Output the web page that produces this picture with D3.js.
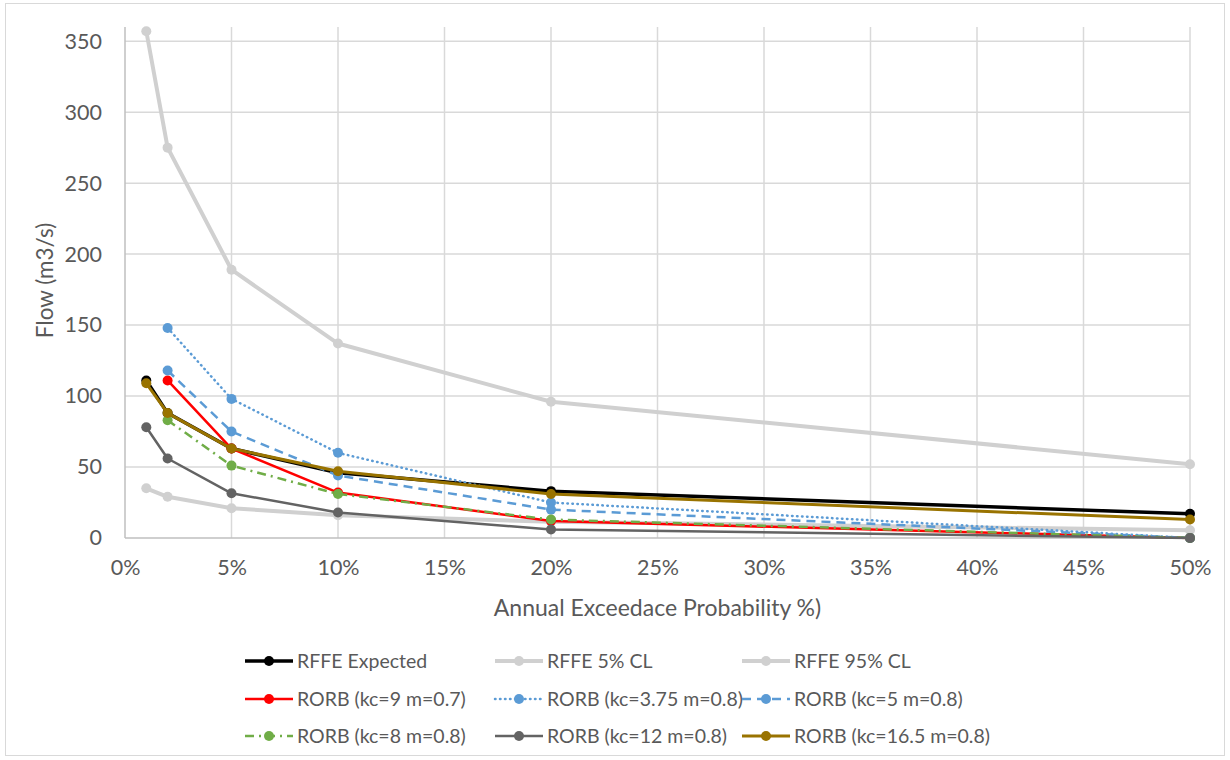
<!DOCTYPE html>
<html>
<head>
<meta charset="utf-8">
<script src="https://cdn.jsdelivr.net/npm/d3@7.9.0/dist/d3.min.js"></script>
<style>
  body { margin: 0; background: #fff; }
  text { font-family: Lato, "Open Sans", sans-serif; fill: #595959; }
</style>
</head>
<body>
<div id="chart"></div>
<script>
// AEP values (fraction)
const aep = [0.01, 0.02, 0.05, 0.10, 0.20, 0.50];
const aepRorb = [0.02, 0.05, 0.10, 0.20, 0.50];

const xTicks = [0, 0.05, 0.10, 0.15, 0.20, 0.25, 0.30, 0.35, 0.40, 0.45, 0.50];
const yTicks = [0, 50, 100, 150, 200, 250, 300, 350];

const rffeExpected = [111, 88, 63, 46, 33, 17];
const rffe5 = [35, 29, 21, 16, 11.5, 5.5];
const rffe95 = [357, 275, 189, 137, 96, 52];
const rorbKc9 = [111, 63, 32, 12, 0];
const rorbKc375 = [148, 98, 60, 25, 0];
const rorbKc5 = [118, 75, 44, 20, 0];
const rorbKc8 = [83, 51, 31, 13, 0];
const rorbKc12 = [78, 56, 31.5, 18, 6, 0];
const rorbKc165 = [109, 88, 63, 47, 31, 13];

// drawn in Excel series order (later ones on top)
const series = [
    { name: "RFFE Expected", x: aep, y: rffeExpected, color: "#000000", width: 3.5, dash: null },
    { name: "RFFE 5% CL", x: aep, y: rffe5, color: "#d0d0d0", width: 4, dash: null },
    { name: "RFFE 95% CL", x: aep, y: rffe95, color: "#d0d0d0", width: 4, dash: null },
    { name: "RORB (kc=9 m=0.7)", x: aepRorb, y: rorbKc9, color: "#ff0000", width: 2.5, dash: null },
    { name: "RORB (kc=3.75 m=0.8)", x: aepRorb, y: rorbKc375, color: "#5b9bd5", width: 2.5, dash: "0.5 4.5", cap: "round" },
    { name: "RORB (kc=5 m=0.8)", x: aepRorb, y: rorbKc5, color: "#5b9bd5", width: 2.5, dash: "9 6" },
    { name: "RORB (kc=8 m=0.8)", x: aepRorb, y: rorbKc8, color: "#70ad47", width: 2.5, dash: "9 5 2 5" },
    { name: "RORB (kc=12 m=0.8)", x: aep, y: rorbKc12, color: "#636363", width: 2.5, dash: null },
    { name: "RORB (kc=16.5 m=0.8)", x: aep, y: rorbKc165, color: "#997300", width: 3, dash: null }
];

const width = 1230, height = 760;
const margin = { top: 27, right: 40, bottom: 222, left: 125 };

const svg = d3.select("#chart").append("svg")
    .attr("width", width)
    .attr("height", height);

// chart border
svg.append("rect")
    .attr("x", 5.5).attr("y", 3.5)
    .attr("width", width - 11).attr("height", height - 8)
    .attr("fill", "#fff")
    .attr("stroke", "#d9d9d9");

const x = d3.scaleLinear().domain([0, 0.5]).range([margin.left, width - margin.right]);
const y = d3.scaleLinear().domain([0, 360]).range([height - margin.bottom, margin.top]);

// grid
svg.append("g")
    .selectAll("line.hgrid")
    .data(yTicks.filter(d => d > 0))
    .enter().append("line")
    .attr("x1", x(0)).attr("x2", x(0.5))
    .attr("y1", d => y(d)).attr("y2", d => y(d))
    .attr("stroke", "#d9d9d9").attr("stroke-width", 1.5);

svg.append("g")
    .selectAll("line.vgrid")
    .data(xTicks.filter(d => d > 0))
    .enter().append("line")
    .attr("x1", d => x(d)).attr("x2", d => x(d))
    .attr("y1", y(0)).attr("y2", y(360))
    .attr("stroke", "#d9d9d9").attr("stroke-width", 1.5);

// axes
const xAxis = svg.append("g")
    .attr("transform", `translate(0,${y(0)})`)
    .call(d3.axisBottom(x).tickValues(xTicks).tickFormat(d3.format(".0%")).tickSize(0).tickPadding(22));
const yAxis = svg.append("g")
    .attr("transform", `translate(${x(0)},0)`)
    .call(d3.axisLeft(y).tickValues(yTicks).tickSize(0).tickPadding(23));
[xAxis, yAxis].forEach(a => {
    a.select(".domain").attr("stroke", "#bfbfbf").attr("stroke-width", 1.5);
    a.selectAll("text").style("font-size", "21.5px").attr("fill", "#595959");
});
xAxis.select(".domain").attr("d", `M${x(0)},0H${x(0.5)}`);
yAxis.select(".domain").attr("d", `M0,${y(0)}V${y(360)}`);

// axis titles
svg.append("text")
    .attr("x", (x(0) + x(0.5)) / 2)
    .attr("y", 616)
    .attr("text-anchor", "middle")
    .style("font-size", "23px")
    .text("Annual Exceedace Probability %)");

svg.append("text")
    .attr("transform", `translate(53,${(y(0) + y(360)) / 2 - 2}) rotate(-90)`)
    .attr("text-anchor", "middle")
    .style("font-size", "22.5px")
    .text("Flow (m3/s)");

// lines
const line = d3.line().x(d => x(d[0])).y(d => y(d[1]));

series.forEach(s => {
    const pts = s.x.map((v, i) => [v, s.y[i]]);
    const g = svg.append("g");
    g.append("path")
        .datum(pts)
        .attr("d", line)
        .attr("fill", "none")
        .attr("stroke", s.color)
        .attr("stroke-width", s.width)
        .attr("stroke-dasharray", s.dash)
        .attr("stroke-linecap", s.cap || "butt")
        .attr("stroke-linejoin", "round");
    g.selectAll("circle")
        .data(pts)
        .enter().append("circle")
        .attr("cx", d => x(d[0]))
        .attr("cy", d => y(d[1]))
        .attr("r", 5)
        .attr("fill", s.color);
});

// legend, 3 per row
const colX = [245, 495, 742];
const rowY = [661, 699, 736];
const legend = svg.append("g");
series.forEach((s, i) => {
    const lx = colX[i % 3], ly = rowY[Math.floor(i / 3)];
    const item = legend.append("g").attr("transform", `translate(${lx},${ly})`);
    item.append("line")
        .attr("x1", 0).attr("x2", 48)
        .attr("y1", 0).attr("y2", 0)
        .attr("stroke", s.color)
        .attr("stroke-width", s.width)
        .attr("stroke-dasharray", s.dash)
        .attr("stroke-linecap", s.cap || "butt");
    item.append("circle")
        .attr("cx", 24).attr("cy", 0).attr("r", 5)
        .attr("fill", s.color);
    item.append("text")
        .attr("x", 52).attr("y", 7)
        .style("font-size", "19.5px")
        .text(s.name);
});
</script>
</body>
</html>
